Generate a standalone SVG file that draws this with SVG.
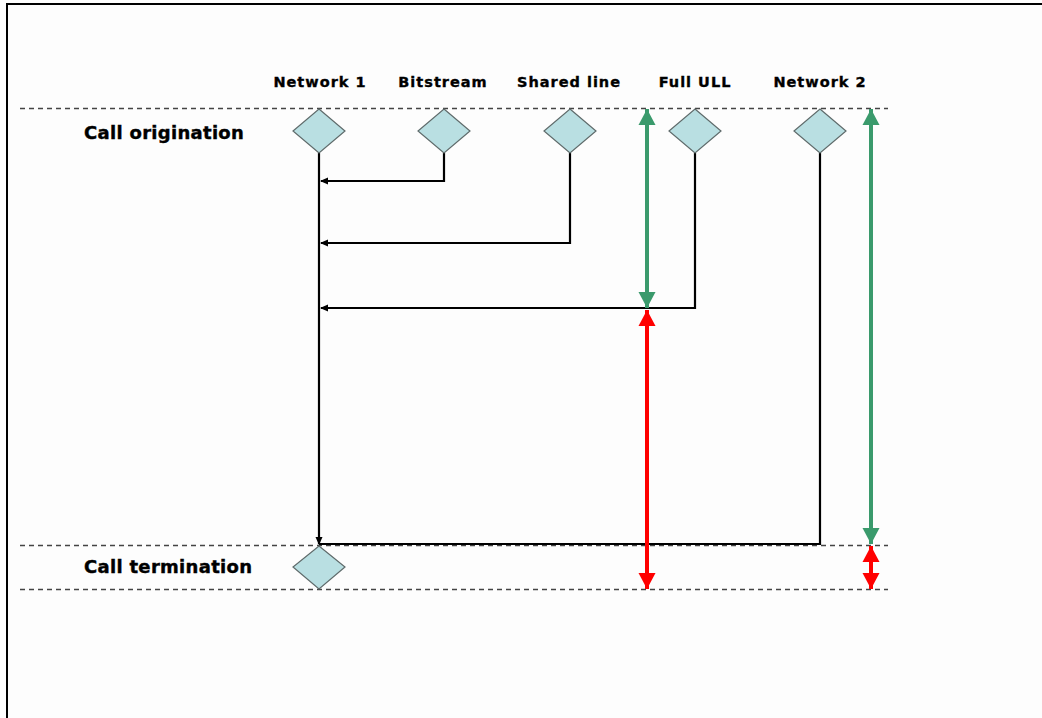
<svg xmlns="http://www.w3.org/2000/svg" width="1042" height="718" viewBox="0 0 1042 718">
  <style>
    .lbl { font-family: "DejaVu Sans", Verdana, sans-serif; font-weight: bold; font-size: 14.5px; fill: #000; stroke: #000; stroke-width: 0.35; text-anchor: middle; letter-spacing: 1px; }
    .row { font-family: "DejaVu Sans", Verdana, sans-serif; font-weight: bold; font-size: 18px; fill: #000; stroke: #000; stroke-width: 0.4; letter-spacing: 0.3px; }
    .dash { stroke: #444; stroke-width: 1.3; stroke-dasharray: 5 4; fill: none; }
    .dia { fill: #b9dfe2; stroke: #5f6b6b; stroke-width: 1.2; }
    .conn { stroke: #000; stroke-width: 2.2; fill: none; }
    .green { stroke: #3a9a6c; stroke-width: 4; fill: none; }
    .red { stroke: #ff0000; stroke-width: 4; fill: none; }
  </style>
  <defs>
    <marker id="blk" markerWidth="9" markerHeight="9" refX="7" refY="4.5" orient="auto" markerUnits="userSpaceOnUse">
      <path d="M0,1 L8,4.5 L0,8 Z" fill="#000"/>
    </marker>
    <marker id="gEnd" markerWidth="18" markerHeight="18" refX="16" refY="8.5" orient="auto" markerUnits="userSpaceOnUse">
      <path d="M0,0 L16,8.5 L0,17 Z" fill="#3a9a6c"/>
    </marker>
    <marker id="gStart" markerWidth="18" markerHeight="18" refX="0" refY="8.5" orient="auto" markerUnits="userSpaceOnUse">
      <path d="M16,0 L0,8.5 L16,17 Z" fill="#3a9a6c"/>
    </marker>
    <marker id="rEnd" markerWidth="18" markerHeight="18" refX="16" refY="8.5" orient="auto" markerUnits="userSpaceOnUse">
      <path d="M0,0 L16,8.5 L0,17 Z" fill="#ff0000"/>
    </marker>
    <marker id="rStart" markerWidth="18" markerHeight="18" refX="0" refY="8.5" orient="auto" markerUnits="userSpaceOnUse">
      <path d="M16,0 L0,8.5 L16,17 Z" fill="#ff0000"/>
    </marker>
  </defs>
  <rect x="0" y="0" width="1042" height="718" fill="#ffffff"/>
  <rect x="7" y="4" width="1040" height="720" fill="#fdfdfd" stroke="#000" stroke-width="2"/>

  <g id="guides">
    <line class="dash" x1="20" y1="108.5" x2="888" y2="108.5"/>
    <line class="dash" x1="20" y1="545.5" x2="888" y2="545.5"/>
    <line class="dash" x1="20" y1="589.5" x2="888" y2="589.5"/>
  </g>

  <g id="row-labels">
    <text class="row" x="84" y="139">Call origination</text>
    <text class="row" x="84" y="573">Call termination</text>
  </g>

  <g id="connectors">
    <path class="conn" d="M319,153 L319,544" marker-end="url(#blk)"/>
    <path class="conn" d="M444,153 L444,181 L321,181" marker-end="url(#blk)"/>
    <path class="conn" d="M570,153 L570,243 L321,243" marker-end="url(#blk)"/>
    <path class="conn" d="M695,153 L695,308 L321,308" marker-end="url(#blk)"/>
    <path class="conn" d="M820,153 L820,544 L319,544"/>
    <line class="green" x1="647" y1="109" x2="647" y2="308" marker-start="url(#gStart)" marker-end="url(#gEnd)"/>
    <line class="red" x1="647" y1="310" x2="647" y2="589" marker-start="url(#rStart)" marker-end="url(#rEnd)"/>
    <line class="green" x1="871" y1="109" x2="871" y2="544" marker-start="url(#gStart)" marker-end="url(#gEnd)"/>
    <line class="red" x1="871" y1="546" x2="871" y2="589" marker-start="url(#rStart)" marker-end="url(#rEnd)"/>
  </g>

  <g id="network1">
    <text class="lbl" x="320" y="87">Network 1</text>
    <polygon class="dia" points="319,109 345,131 319,153 293,131"/>
  </g>
  <g id="bitstream">
    <text class="lbl" x="443" y="87">Bitstream</text>
    <polygon class="dia" points="444,109 470,131 444,153 418,131"/>
  </g>
  <g id="shared-line">
    <text class="lbl" x="569" y="87">Shared line</text>
    <polygon class="dia" points="570,109 596,131 570,153 544,131"/>
  </g>
  <g id="full-ull">
    <text class="lbl" x="695" y="87">Full ULL</text>
    <polygon class="dia" points="695,109 721,131 695,153 669,131"/>
  </g>
  <g id="network2">
    <text class="lbl" x="820" y="87">Network 2</text>
    <polygon class="dia" points="820,109 846,131 820,153 794,131"/>
  </g>
  <g id="termination">
    <polygon class="dia" points="319,546 345,567 319,589 293,567"/>
  </g>
</svg>
